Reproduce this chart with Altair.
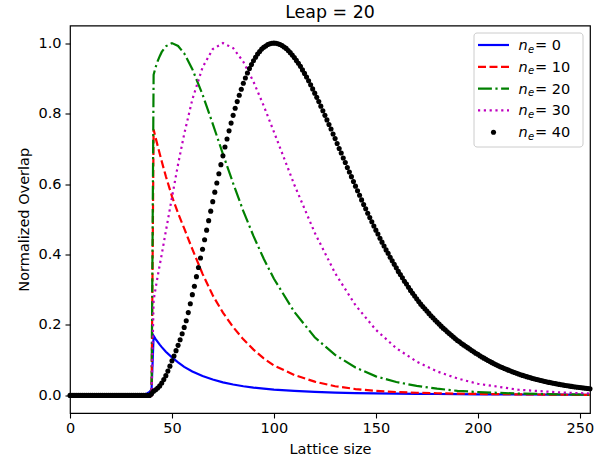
import altair as alt
import pandas as pd

# ---------------- data ----------------
title_text = "Leap = 20"
x_title = "Lattice size"
y_title = "Normalized Overlap"

legend_values = ["0", "10", "20", "30", "40"]
series_colors = ["#0000ff", "#ff0000", "#008000", "#bf00bf", "#000000"]

x_ticks = [0, 50, 100, 150, 200, 250]
y_ticks = [0.0, 0.2, 0.4, 0.6, 0.8, 1.0]

# lattice sizes at which the four curves were read
line_x = [0, 34, 36, 38, 39, 40, 41, 42, 43, 44, 45, 47, 50, 53, 56,
          60, 65, 70, 75, 80, 85, 90, 95, 100,
          110, 120, 130, 140, 150, 160, 170, 180, 190, 200,
          220, 240, 255]

ne0 = [0.0, 0.0, 0.002, 0.006, 0.010, 0.017, 0.169, 0.160, 0.152, 0.144, 0.137,
       0.124, 0.108, 0.094, 0.081,
       0.068, 0.055, 0.045, 0.037, 0.031, 0.026, 0.022, 0.019, 0.0165,
       0.013, 0.010, 0.008, 0.0065, 0.0055, 0.005, 0.0045, 0.004, 0.0035, 0.003,
       0.0025, 0.002, 0.0018]

ne10 = [0.0, 0.0, 0.0, 0.0, 0.0, 0.0, 0.755, 0.731, 0.708, 0.686, 0.664,
        0.622, 0.565, 0.517, 0.474,
        0.415, 0.345, 0.284, 0.235, 0.194, 0.159, 0.13, 0.105, 0.085,
        0.058, 0.039, 0.026, 0.018, 0.013, 0.0095, 0.0075, 0.006, 0.005, 0.004,
        0.003, 0.002, 0.0015]

ne20 = [0.0, 0.0, 0.0, 0.0, 0.0, 0.0, 0.91, 0.932, 0.949, 0.963, 0.975,
        0.991, 1.0, 0.992, 0.971,
        0.926, 0.854, 0.771, 0.685, 0.602, 0.523, 0.452, 0.388, 0.331,
        0.237, 0.165, 0.115, 0.079, 0.054, 0.038, 0.027, 0.019, 0.013, 0.0095,
        0.005, 0.003, 0.002]

ne30 = [0.0, 0.0, 0.0, 0.0, 0.0, 0.0, 0.27, 0.305, 0.338, 0.37, 0.401,
        0.466, 0.562, 0.656, 0.742,
        0.84, 0.931, 0.983, 1.0, 0.986, 0.947, 0.89, 0.822, 0.748,
        0.598, 0.462, 0.347, 0.256, 0.186, 0.134, 0.096, 0.068, 0.048, 0.033,
        0.016, 0.0085, 0.0053]

# n_e = 40 : one dot per lattice size 0..255
dots_x = list(range(256))
ne40 = ([0.0] * 40 + [0.005] +
        [0.012, 0.016, 0.021, 0.027, 0.035, 0.045, 0.056, 0.069, 0.083, 0.098,
         0.112, 0.127, 0.142, 0.158, 0.175, 0.193, 0.212, 0.235, 0.26, 0.286,
         0.31, 0.337, 0.363, 0.39, 0.415, 0.442, 0.469, 0.496, 0.523, 0.55,
         0.577, 0.603, 0.629, 0.655, 0.68, 0.705, 0.728, 0.751, 0.773, 0.795,
         0.815, 0.834, 0.852, 0.869, 0.886, 0.901, 0.915, 0.928, 0.939, 0.95,
         0.96, 0.969, 0.976, 0.983, 0.988, 0.992, 0.996, 0.998, 0.9995, 1.0,
         0.9995, 0.998, 0.996, 0.993, 0.989, 0.985, 0.979, 0.973, 0.966, 0.959,
         0.951, 0.943, 0.934, 0.924, 0.914, 0.904, 0.893, 0.882, 0.87, 0.858,
         0.846, 0.834, 0.821, 0.808, 0.795, 0.782, 0.769, 0.756, 0.742, 0.729,
         0.715, 0.701, 0.688, 0.674, 0.661, 0.647, 0.634, 0.621, 0.607, 0.594,
         0.581, 0.568, 0.555, 0.542, 0.53, 0.517, 0.505, 0.493, 0.481, 0.469,
         0.458, 0.446, 0.435, 0.424, 0.413, 0.403, 0.392, 0.382, 0.372, 0.362,
         0.352, 0.343, 0.334, 0.324, 0.316, 0.307, 0.298, 0.29, 0.282, 0.274,
         0.2665, 0.259, 0.2525, 0.246, 0.2394, 0.2328, 0.2261, 0.2205, 0.2138, 0.2081,
         0.2024, 0.1966, 0.1908, 0.1861, 0.1803, 0.1754, 0.1706, 0.1658, 0.1609, 0.156,
         0.1521, 0.1472, 0.1433, 0.1394, 0.1355, 0.1315, 0.1275, 0.1236, 0.1196, 0.1166,
         0.1126, 0.1091, 0.1057, 0.1023, 0.099, 0.0959, 0.0929, 0.0899, 0.087, 0.0843,
         0.0815, 0.079, 0.0764, 0.074, 0.0716, 0.0692, 0.067, 0.0649, 0.0628, 0.0607,
         0.0587, 0.0568, 0.055, 0.0532, 0.0515, 0.0498, 0.0481, 0.0466, 0.0451, 0.0436,
         0.0421, 0.0408, 0.0394, 0.0382, 0.0369, 0.0357, 0.0345, 0.0334, 0.0322, 0.0312,
         0.0302, 0.0292, 0.0282, 0.0272, 0.0264, 0.0255, 0.0247, 0.0239, 0.023, 0.0223,
         0.0215, 0.0208, 0.0201, 0.0195, 0.0189])

# ---------------- styling ----------------
FONT = "DejaVu Sans"
FS = 14.5
LW = 2.2
DOT = 26
dashes = [None, [8, 3.5], [13.9, 3.5, 2.2, 3.5], [2.2, 3.6]]

PLOT_W, PLOT_H = 520, 387.5

x_scale = alt.Scale(domain=[0, 255], nice=False, zero=False)
y_scale = alt.Scale(domain=[-0.05, 1.05], nice=False, zero=False)

x_axis = alt.Axis(values=x_ticks, grid=False, domain=False, tickColor="black",
                  tickSize=5, tickWidth=1.1, labelFont=FONT, labelFontSize=FS,
                  labelColor="black", labelPadding=3, labelFlush=False,
                  labelOverlap=False, title=x_title, titleFont=FONT,
                  titleFontSize=FS, titleFontWeight="normal", titleColor="black",
                  titleBaseline="alphabetic", titleY=40.6)
y_axis = alt.Axis(values=y_ticks, format=".1f", grid=False, domain=False,
                  tickColor="black", tickSize=5, tickWidth=1.1, labelFont=FONT,
                  labelFontSize=FS, labelColor="black", labelPadding=4,
                  labelFlush=False, labelOverlap=False, title=y_title,
                  titleFont=FONT, titleFontSize=FS, titleFontWeight="normal",
                  titleColor="black", titleBaseline="alphabetic", titleX=-41.4)

X = alt.X("x:Q", scale=x_scale, axis=x_axis)
Y = alt.Y("y:Q", scale=y_scale, axis=y_axis)

layers = []
series_lists = [ne0, ne10, ne20, ne30]
for i, vals in enumerate(series_lists):
    df = pd.DataFrame({"x": line_x, "y": vals})
    mk = dict(color=series_colors[i], strokeWidth=LW, strokeCap="butt")
    if dashes[i] is not None:
        mk["strokeDash"] = dashes[i]
    layers.append(alt.Chart(df).mark_line(**mk).encode(x=X, y=Y))

df40 = pd.DataFrame({"x": dots_x, "y": ne40})
layers.append(alt.Chart(df40).mark_circle(size=DOT, color="black", opacity=1).encode(x=X, y=Y))

# ---------------- title ----------------
one = pd.DataFrame({"k": [0]})
layers.append(alt.Chart(one).mark_text(text=title_text, font=FONT, fontSize=17.4,
                                       align="center", baseline="alphabetic",
                                       color="black").encode(
    x=alt.value(PLOT_W / 2), y=alt.value(-7.8)))

# ---------------- legend (matplotlib-like box, upper right) ----------------
layers.append(alt.Chart(one).mark_rect(fill="white", fillOpacity=0.8, stroke="#cccccc",
                                       strokeWidth=1, cornerRadius=3).encode(
    x=alt.value(404), x2=alt.value(513), y=alt.value(7.5), y2=alt.value(121.5)))

row_y = [19.5, 41.3, 63.1, 84.9, 106.7]
for i, lab in enumerate(legend_values):
    ry = row_y[i]
    if i < 4:
        mk = dict(color=series_colors[i], strokeWidth=LW, strokeCap="butt")
        if dashes[i] is not None:
            mk["strokeDash"] = dashes[i]
        layers.append(alt.Chart(one).mark_rule(**mk).encode(
            x=alt.value(408), x2=alt.value(439), y=alt.value(ry)))
    else:
        layers.append(alt.Chart(one).mark_circle(size=DOT, color="black", opacity=1).encode(
            x=alt.value(423.5), y=alt.value(ry)))
    layers.append(alt.Chart(one).mark_text(text="n", font=FONT, fontSize=FS, fontStyle="italic",
                                           align="left", baseline="alphabetic", color="black").encode(
        x=alt.value(448.6), y=alt.value(ry + 5)))
    layers.append(alt.Chart(one).mark_text(text="e", font=FONT, fontSize=10, fontStyle="italic",
                                           align="left", baseline="alphabetic", color="black").encode(
        x=alt.value(458.1), y=alt.value(ry + 7.6)))
    layers.append(alt.Chart(one).mark_text(text="= " + lab, font=FONT, fontSize=FS,
                                           align="left", baseline="alphabetic", color="black").encode(
        x=alt.value(465), y=alt.value(ry + 5)))

chart = alt.layer(*layers).properties(
    width=PLOT_W, height=PLOT_H,
    padding={"left": 70, "top": 25.5, "right": 19, "bottom": 51},
    autosize="none",
    background="white",
).configure_view(stroke="black", strokeWidth=1.2)

chart.save("out.html", embed_options={"renderer": "svg", "actions": False})
